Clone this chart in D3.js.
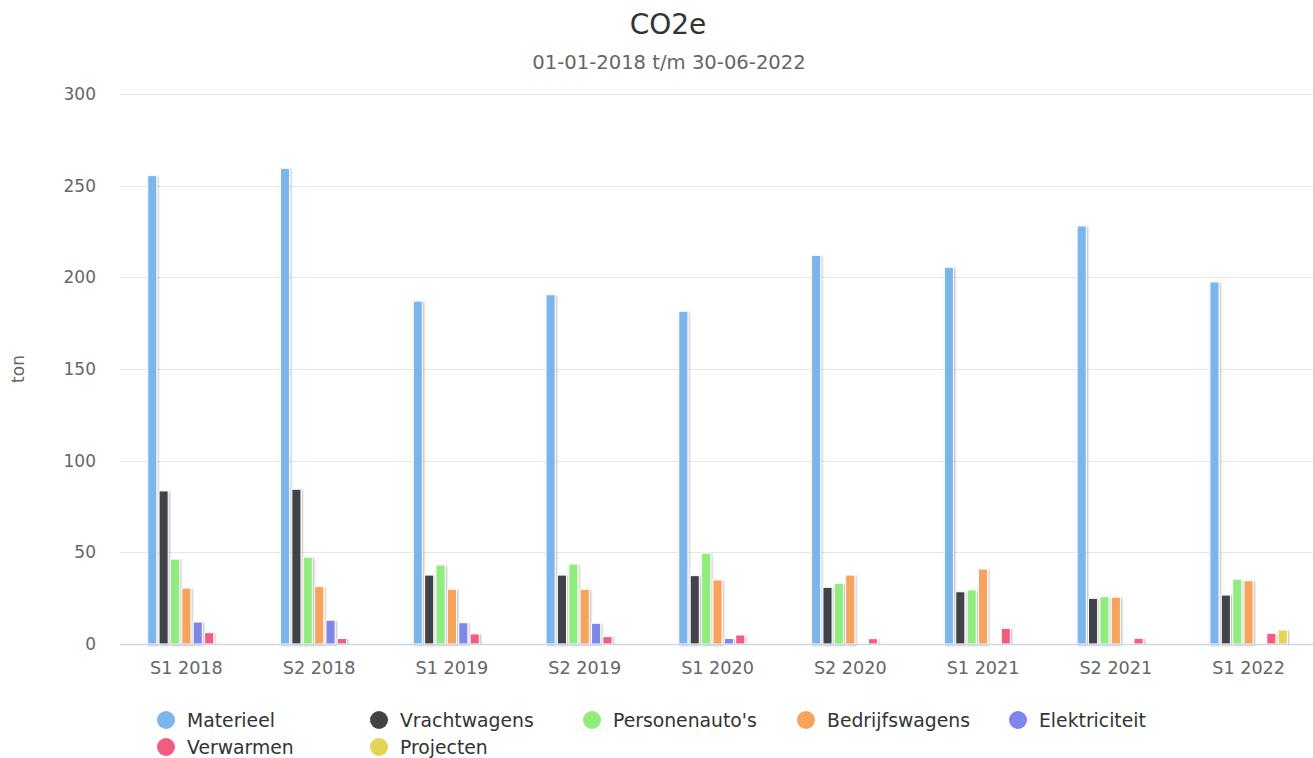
<!DOCTYPE html>
<html>
<head>
<meta charset="utf-8">
<script src="https://cdn.jsdelivr.net/npm/d3@7"></script>
<style>
  body { margin: 0; background: #fff; }
  text { font-family: "DejaVu Sans", Verdana, sans-serif; }
</style>
</head>
<body>
<div id="chart"></div>
<script>
const categories = ["S1 2018", "S2 2018", "S1 2019", "S2 2019", "S1 2020", "S2 2020", "S1 2021", "S2 2021", "S1 2022"];
const seriesNames = ["Materieel", "Vrachtwagens", "Personenauto's", "Bedrijfswagens", "Elektriciteit", "Verwarmen", "Projecten"];
const seriesColors = ["#7cb5ec", "#434348", "#90ed7d", "#f7a35c", "#8085e9", "#f15c80", "#e4d354"];

const materieel = [255.5, 259.5, 187, 190.5, 181.5, 212, 205.5, 228, 197.5];
const vrachtwagens = [83.5, 84.4, 37.6, 37.6, 37.3, 30.9, 28.5, 24.9, 26.7];
const personenautos = [46.3, 47.3, 43.1, 43.6, 49.5, 33.1, 29.5, 25.8, 35.3];
const bedrijfswagens = [30.5, 31.3, 29.8, 29.8, 34.9, 37.6, 40.9, 25.5, 34.5];
const elektriciteit = [12, 13, 11.6, 11.3, 3, null, null, null, null];
const verwarmen = [6.2, 3, 5.5, 4, 4.9, 2.9, 8.5, 3.1, 5.8];
const projecten = [null, null, null, null, null, null, null, null, 7.6];

const yTicks = [0, 50, 100, 150, 200, 250, 300];

const allSeries = [materieel, vrachtwagens, personenautos, bedrijfswagens, elektriciteit, verwarmen, projecten];

const W = 1313, H = 758;
const plot = { left: 120, right: 1315, top: 94, bottom: 644 };

const svg = d3.select("#chart").append("svg")
    .attr("width", W)
    .attr("height", H);

// soft grey shadow like the original bars
const defs = svg.append("defs");
defs.append("filter")
    .attr("id", "shadow")
    .attr("x", "-50%").attr("y", "-5%")
    .attr("width", "200%").attr("height", "110%")
    .append("feDropShadow")
    .attr("dx", 1).attr("dy", 1)
    .attr("stdDeviation", 1)
    .attr("flood-color", "#000")
    .attr("flood-opacity", 0.3);

const x0 = d3.scaleBand().domain(categories).range([plot.left, plot.right]).padding(0);
const bw = x0.bandwidth();
const x1 = d3.scaleBand().domain(seriesNames)
    .range([0.2 * bw, 0.8 * bw])
    .paddingInner(0.2)
    .paddingOuter(0.1);
const y = d3.scaleLinear().domain([0, 300]).range([plot.bottom, plot.top]);

// title
svg.append("text")
    .attr("x", 668).attr("y", 34)
    .attr("text-anchor", "middle")
    .attr("font-size", "28px")
    .attr("fill", "#333333")
    .text("CO2e");
svg.append("text")
    .attr("x", 669).attr("y", 69)
    .attr("text-anchor", "middle")
    .attr("font-size", "19.6px")
    .attr("fill", "#666666")
    .text("01-01-2018 t/m 30-06-2022");

// grid
svg.selectAll(".grid")
    .data(yTicks.filter(d => d > 0))
    .enter().append("line")
    .attr("class", "grid")
    .attr("x1", plot.left)
    .attr("x2", plot.right)
    .attr("y1", d => Math.round(y(d)) + 0.5)
    .attr("y2", d => Math.round(y(d)) + 0.5)
    .attr("stroke", "#e6e6e6")
    .attr("stroke-width", 1);

svg.selectAll(".ylabel")
    .data(yTicks)
    .enter().append("text")
    .attr("class", "ylabel")
    .attr("x", 96)
    .attr("y", d => y(d))
    .attr("dy", "0.35em")
    .attr("text-anchor", "end")
    .attr("font-size", "17px")
    .attr("fill", "#666666")
    .text(d => d);

svg.append("text")
    .attr("transform", `translate(24,${(plot.top + plot.bottom) / 2}) rotate(-90)`)
    .attr("text-anchor", "middle")
    .attr("font-size", "17px")
    .attr("fill", "#666666")
    .text("ton");

// bars
const groups = svg.selectAll(".group")
    .data(categories)
    .enter().append("g")
    .attr("class", "group")
    .attr("transform", d => `translate(${x0(d)},0)`);

groups.selectAll("rect")
    .data((c, i) => seriesNames.map((s, j) => ({ s, j, v: allSeries[j][i] })).filter(d => d.v != null))
    .enter().append("rect")
    .attr("x", d => x1(d.s))
    .attr("y", d => y(d.v))
    .attr("width", x1.bandwidth())
    .attr("height", d => y(0) - y(d.v))
    .attr("fill", d => seriesColors[d.j])
    .attr("stroke", "#ffffff")
    .attr("stroke-width", 1)
    .attr("filter", "url(#shadow)");

// x axis
svg.append("line")
    .attr("x1", plot.left).attr("x2", plot.right)
    .attr("y1", plot.bottom + 0.5).attr("y2", plot.bottom + 0.5)
    .attr("stroke", "#ccd6eb")
    .attr("stroke-width", 1.5);

svg.selectAll(".xlabel")
    .data(categories)
    .enter().append("text")
    .attr("class", "xlabel")
    .attr("x", d => x0(d) + bw / 2)
    .attr("y", 674)
    .attr("text-anchor", "middle")
    .attr("font-size", "17.6px")
    .attr("fill", "#666666")
    .text(d => d);

// legend
const legendX = [166, 379, 592, 806, 1018];
const legend = svg.selectAll(".legend")
    .data(seriesNames)
    .enter().append("g")
    .attr("class", "legend")
    .attr("transform", (d, i) => `translate(${legendX[i % 5]},${720 + Math.floor(i / 5) * 27})`);
legend.append("circle")
    .attr("r", 9)
    .attr("fill", (d, i) => seriesColors[i]);
legend.append("text")
    .attr("x", 21)
    .attr("dy", "0.36em")
    .attr("font-size", "18.8px")
    .attr("fill", "#333333")
    .text(d => d);
</script>
</body>
</html>
